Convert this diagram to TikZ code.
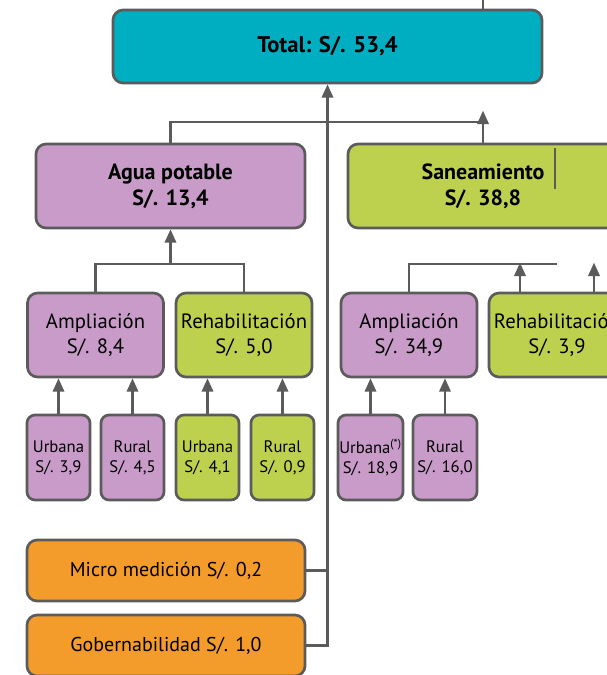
\documentclass[tikz,border=0pt]{standalone}
\usepackage{fontspec}
\setmainfont{PT Sans}
\usetikzlibrary{arrows.meta,calc}
\definecolor{lgray}{HTML}{5B5B5B}
\definecolor{cyanbox}{HTML}{00AEC2}
\definecolor{lilabox}{HTML}{C89BC9}
\definecolor{greenbox}{HTML}{BED14F}
\definecolor{orangebox}{HTML}{F39C2C}
\begin{document}
\begin{tikzpicture}
  [x=0.75pt,y=-0.75pt,
   box/.style={draw=lgray,line width=2pt,rounded corners=7.5pt,inner sep=0pt,align=center},
   big/.style={box,minimum width=102pt,minimum height=63pt,font=\fontsize{15.5}{19}\selectfont},
   small/.style={box,rounded corners=6pt,minimum width=47.25pt,minimum height=63.75pt,font=\fontsize{12.5}{15}\selectfont},
   con/.style={draw=lgray,line width=1.8pt},
   arr/.style={con,-{Triangle[length=10pt,width=8.5pt]}}]
  \clip (0,0) rectangle (607,675);

  \node[box,fill=cyanbox,minimum width=321.75pt,minimum height=54.75pt,font=\fontsize{17}{20}\selectfont\bfseries] (total) at (327.5,46.5) {Total: S/. 53,4};
  \node[box,fill=lilabox,minimum width=201.75pt,minimum height=63pt,font=\fontsize{16.5}{19.5}\selectfont\bfseries] (agua) at (170.5,186) {Agua potable\\S/. 13,4};
  \node[box,fill=greenbox,minimum width=202.5pt,minimum height=63pt,font=\fontsize{16.5}{19.5}\selectfont\bfseries] (san) at (483,186) {Saneamiento\\S/. 38,8};

  \node[big,fill=lilabox] (ampA) at (95.5,335) {Ampliación\\S/. 8,4};
  \node[big,fill=greenbox] (rehA) at (244,335) {Rehabilitación\\S/. 5,0};
  \node[big,fill=lilabox] (ampS) at (409,335) {Ampliación\\S/. 34,9};
  \node[big,fill=greenbox] (rehS) at (557,335) {Rehabilitación\\S/. 3,9};

  \node[small,fill=lilabox] (urbA) at (58.5,457.5) {Urbana\\S/. 3,9};
  \node[small,fill=lilabox] (rurA) at (132.5,457.5) {Rural\\S/. 4,5};
  \node[small,fill=greenbox] (urbR) at (207.5,457.5) {Urbana\\S/. 4,1};
  \node[small,fill=greenbox] (rurR) at (282.5,457.5) {Rural\\S/. 0,9};
  \node[small,fill=lilabox,minimum width=48.75pt] (urbS) at (370.5,457.5) {Urbana\textsuperscript{(*)}\\S/. 18,9};
  \node[small,fill=lilabox,minimum width=48pt] (rurS) at (445,457.5) {Rural\\S/. 16,0};

  \node[box,fill=orangebox,minimum width=208.5pt,minimum height=45.75pt,font=\fontsize{15}{19}\selectfont] (micro) at (166,570.5) {Micro medición S/. 0,2};
  \node[box,fill=orangebox,minimum width=208.5pt,minimum height=45.75pt,font=\fontsize{15}{19}\selectfont] (gober) at (166,645.5) {Gobernabilidad S/. 1,0};

  % top level
  \draw[con] (total.north -| san.north) -- ++(0,-12);
  \draw[con] (agua.north) |- (san.north |- 0,122);
  \draw[arr] (san.north) -- ++(0,-32);
  \draw[con] (555,148) -- (555,189);

  % agua potable
  \draw[con] (ampA.north) |- (rehA.north |- 0,264) -- (rehA.north);
  \draw[arr] (agua.south |- 0,264) -- (agua.south);
  \draw[arr] (urbA.north) -- (urbA.north |- ampA.south);
  \draw[arr] (rurA.north) -- (rurA.north |- ampA.south);
  \draw[arr] (urbR.north) -- (urbR.north |- rehA.south);
  \draw[arr] (rurR.north) -- (rurR.north |- rehA.south);

  % saneamiento
  \draw[con] (ampS.north) |- (rehS.north |- 0,264);
  \draw[arr] ($(rehS.north)+(-37,0)$) -- ++(0,-29);
  \draw[arr] ($(rehS.north)+(37,0)$) -- ++(0,-29);
  \draw[arr] (urbS.north) -- (urbS.north |- ampS.south);
  \draw[arr] (rurS.north) -- (rurS.north |- ampS.south);

  % otros
  \draw[con] (micro.east) -- (micro.east -| total.south);
  \draw[arr] (gober.east) -| (total.south);
\end{tikzpicture}
\end{document}
